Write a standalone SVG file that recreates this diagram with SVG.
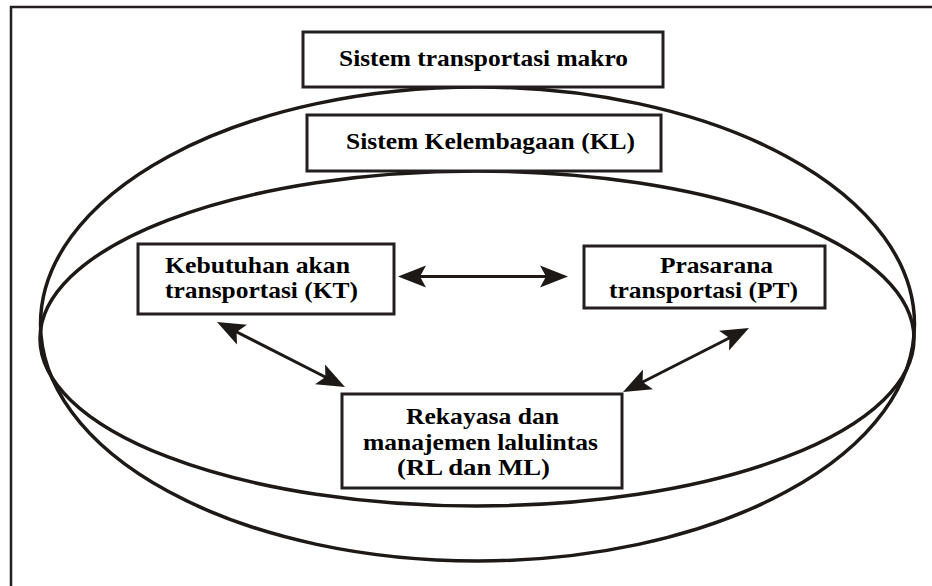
<svg xmlns="http://www.w3.org/2000/svg" width="932" height="586" viewBox="0 0 932 586">
<style>
.frame{fill:none;stroke:#231f20;stroke-width:2.5}
.ell{fill:none;stroke:#1c1917;stroke-width:3.5}
.box{fill:#fff;stroke:#231f20;stroke-width:3}
.t{font-family:"Liberation Serif","Times New Roman",serif;font-weight:bold;font-size:24px;fill:#000}
.conn{stroke:#1c1917;stroke-width:3;fill:none;marker-start:url(#ah);marker-end:url(#ah)}
</style>
<defs>
<marker id="ah" markerUnits="userSpaceOnUse" markerWidth="32" markerHeight="26" viewBox="0 -13 32 26" refX="18" refY="0" orient="auto-start-reverse">
<path d="M28,0 L0,-11 L6,0 L0,11 Z" fill="#1c1917"/>
</marker>
</defs>
<rect width="932" height="586" fill="#fff"/>
<path class="frame" d="M11,586 V7 H932"/>
<g id="ellipses">
<ellipse class="ell" cx="477.5" cy="324" rx="437" ry="237"/>
<ellipse class="ell" cx="477" cy="338.5" rx="437" ry="167.5"/>
</g>
<g id="makro">
<rect class="box" x="303" y="32" width="360" height="55"/>
<text class="t" x="339" y="65.5" textLength="289" lengthAdjust="spacingAndGlyphs">Sistem transportasi makro</text>
</g>
<g id="kl">
<rect class="box" x="307" y="115" width="354" height="56"/>
<text class="t" x="346" y="148.5" textLength="289" lengthAdjust="spacingAndGlyphs">Sistem Kelembagaan (KL)</text>
</g>
<g id="kt">
<rect class="box" x="138" y="244" width="256" height="70"/>
<text class="t" x="165" y="273" textLength="185" lengthAdjust="spacingAndGlyphs">Kebutuhan akan</text>
<text class="t" x="165" y="297.5" textLength="193" lengthAdjust="spacingAndGlyphs">transportasi (KT)</text>
</g>
<g id="pt">
<rect class="box" x="584" y="246" width="241" height="62"/>
<text class="t" x="660" y="273" textLength="113" lengthAdjust="spacingAndGlyphs">Prasarana</text>
<text class="t" x="609" y="297.5" textLength="189" lengthAdjust="spacingAndGlyphs">transportasi (PT)</text>
</g>
<g id="rl">
<rect class="box" x="342" y="394" width="280" height="94"/>
<text class="t" x="406" y="424" textLength="153" lengthAdjust="spacingAndGlyphs">Rekayasa dan</text>
<text class="t" x="363" y="449.5" textLength="235" lengthAdjust="spacingAndGlyphs">manajemen lalulintas</text>
<text class="t" x="397" y="475" textLength="153" lengthAdjust="spacingAndGlyphs">(RL dan ML)</text>
</g>
<g id="connectors">
<line class="conn" x1="408" y1="276.5" x2="558" y2="276.5"/>
<line class="conn" x1="225.9" y1="326.5" x2="336.1" y2="382.5"/>
<line class="conn" x1="740.1" y1="332.5" x2="631.9" y2="387.5"/>
</g>
</svg>
